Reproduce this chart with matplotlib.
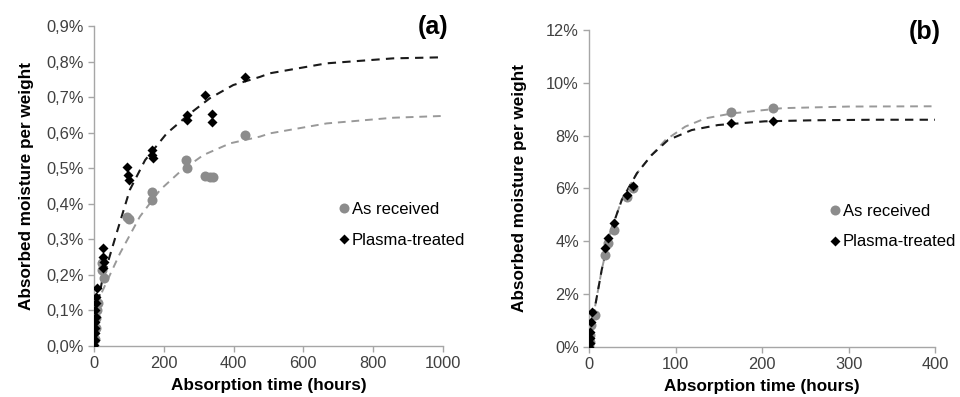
import numpy as np
import matplotlib
matplotlib.use("Agg")
import matplotlib.pyplot as plt
from matplotlib.ticker import FuncFormatter

plt.rcParams["font.family"] = ["Liberation Sans", "DejaVu Sans"]

# ---- panel (a): data (time in h, moisture in %) ----
a_recv_t = [2, 4, 6, 8, 10, 21, 21, 28, 95, 100, 165, 167, 263, 267, 318, 333, 340, 432]
a_recv_v = [0.02, 0.05, 0.08, 0.10, 0.12, 0.233, 0.214, 0.190, 0.362, 0.358,
            0.434, 0.412, 0.523, 0.501, 0.478, 0.476, 0.474, 0.593]
a_plas_t = [0, 1, 2, 3, 3, 4, 3, 4, 5, 7, 24, 26, 28, 26, 95, 98, 100,
            165, 167, 170, 265, 267, 318, 337, 339, 432]
a_plas_v = [0.003, 0.017, 0.036, 0.050, 0.068, 0.082, 0.101, 0.120, 0.139, 0.162,
            0.275, 0.251, 0.237, 0.218, 0.504, 0.481, 0.467,
            0.551, 0.537, 0.528, 0.650, 0.636, 0.706, 0.652, 0.631, 0.757]
# fitted curves
a_fit_plas_t = [0, 5, 10, 21, 64, 102, 146, 208, 275, 332, 399, 476, 504, 667, 858, 1000]
a_fit_plas_v = [0, 0.07, 0.115, 0.176, 0.317, 0.439, 0.523, 0.598, 0.654, 0.697,
                0.734, 0.757, 0.767, 0.795, 0.809, 0.812]
a_fit_recv_t = [0, 5, 16, 74, 131, 189, 246, 313, 390, 476, 504, 667, 858, 1000]
a_fit_recv_v = [0, 0.06, 0.139, 0.261, 0.364, 0.439, 0.490, 0.537, 0.570, 0.589,
                0.598, 0.626, 0.642, 0.647]

# ---- panel (b) ----
b_recv_t = [0, 1, 1, 2, 6, 18, 22, 28, 43, 51, 164, 213]
b_recv_v = [0.0, 0.19, 0.44, 0.82, 1.20, 3.47, 3.92, 4.42, 5.68, 6.03, 8.90, 9.03]
b_plas_t = [0, 0.5, 0.5, 1, 2, 3.5, 18, 22, 28, 43, 51, 164, 213]
b_plas_v = [0.0, 0.13, 0.32, 0.55, 0.92, 1.30, 3.75, 4.13, 4.67, 5.75, 6.10, 8.49, 8.57]
b_fit_plas_t = [0, 6.6, 14.3, 24, 37.5, 55, 72, 91, 118.5, 149, 203, 260, 330, 400]
b_fit_plas_v = [0, 1.52, 2.91, 4.30, 5.56, 6.57, 7.26, 7.83, 8.21, 8.40, 8.54, 8.58,
                8.60, 8.60]
b_fit_recv_t = [0, 6.6, 14.3, 24, 37.5, 55, 72, 88, 111, 134, 165, 203, 224, 300, 400]
b_fit_recv_v = [0, 1.52, 2.91, 4.30, 5.56, 6.57, 7.26, 7.83, 8.34, 8.65, 8.84, 8.97,
                9.04, 9.10, 9.11]

GRAY = "#8c8c8c"
AXCOL = "#a6a6a6"
TXT = "#404040"


def style(ax, ypad):
    for s in ("top", "right"):
        ax.spines[s].set_visible(False)
    for s in ("left", "bottom"):
        ax.spines[s].set_color(AXCOL)
        ax.spines[s].set_linewidth(1.0)
    ax.tick_params(colors=AXCOL, labelcolor=TXT, labelsize=11.8, length=4, width=1)
    ax.set_xlabel("Absorption time (hours)", fontsize=12.3, fontweight="bold", labelpad=5)
    ax.set_ylabel("Absorbed moisture per weight", fontsize=12.3, fontweight="bold",
                  labelpad=ypad)


def draw(ax, fr_t, fr_v, fp_t, fp_v, r_t, r_v, p_t, p_v):
    ax.plot(fr_t, fr_v, color="#999999", ls=(0, (4, 3)), lw=1.4, zorder=1)
    ax.plot(fp_t, fp_v, color="#1a1a1a", ls=(0, (4, 3)), lw=1.5, zorder=1)
    ax.plot(r_t, r_v, "o", color=GRAY, ms=7.2, mec="none", label="As received", zorder=2)
    ax.plot(p_t, p_v, "D", color="black", ms=5.3, mec="none", label="Plasma-treated", zorder=3)


fig = plt.figure(figsize=(9.6, 3.97), dpi=100)
ax1 = fig.add_axes([0.0982, 0.1285, 0.3629, 0.806])
ax2 = fig.add_axes([0.6139, 0.1267, 0.3601, 0.7977])

draw(ax1, a_fit_recv_t, a_fit_recv_v, a_fit_plas_t, a_fit_plas_v,
     a_recv_t, a_recv_v, a_plas_t, a_plas_v)
ax1.set_xlim(0, 1000)
ax1.set_ylim(0, 0.9)
ax1.set_xticks(np.arange(0, 1001, 200))
ax1.set_yticks(np.arange(0, 0.91, 0.1))
ax1.yaxis.set_major_formatter(FuncFormatter(lambda v, p: f"{v:.1f}%".replace(".", ",")))
style(ax1, 9)

draw(ax2, b_fit_recv_t, b_fit_recv_v, b_fit_plas_t, b_fit_plas_v,
     b_recv_t, b_recv_v, b_plas_t, b_plas_v)
ax2.set_xlim(0, 400)
ax2.set_ylim(0, 12)
ax2.set_xticks(np.arange(0, 401, 100))
ax2.set_yticks(np.arange(0, 12.1, 2))
ax2.yaxis.set_major_formatter(FuncFormatter(lambda v, p: f"{v:.0f}%"))
style(ax2, 14)

for ax, anchor in ((ax1, (0.705, 0.45)), (ax2, (0.70, 0.452))):
    ax.legend(loc="upper left", bbox_to_anchor=anchor, frameon=False, fontsize=12,
              handlelength=0.5, handletextpad=0.2, labelspacing=0.95,
              borderaxespad=0, borderpad=0)

fig.text(433 / 960, 1 - 27 / 397, "(a)", fontsize=18, fontweight="bold",
         ha="center", va="center")
fig.text(925 / 960, 1 - 32 / 397, "(b)", fontsize=18, fontweight="bold",
         ha="center", va="center")

fig.savefig("out.png", dpi=100)
